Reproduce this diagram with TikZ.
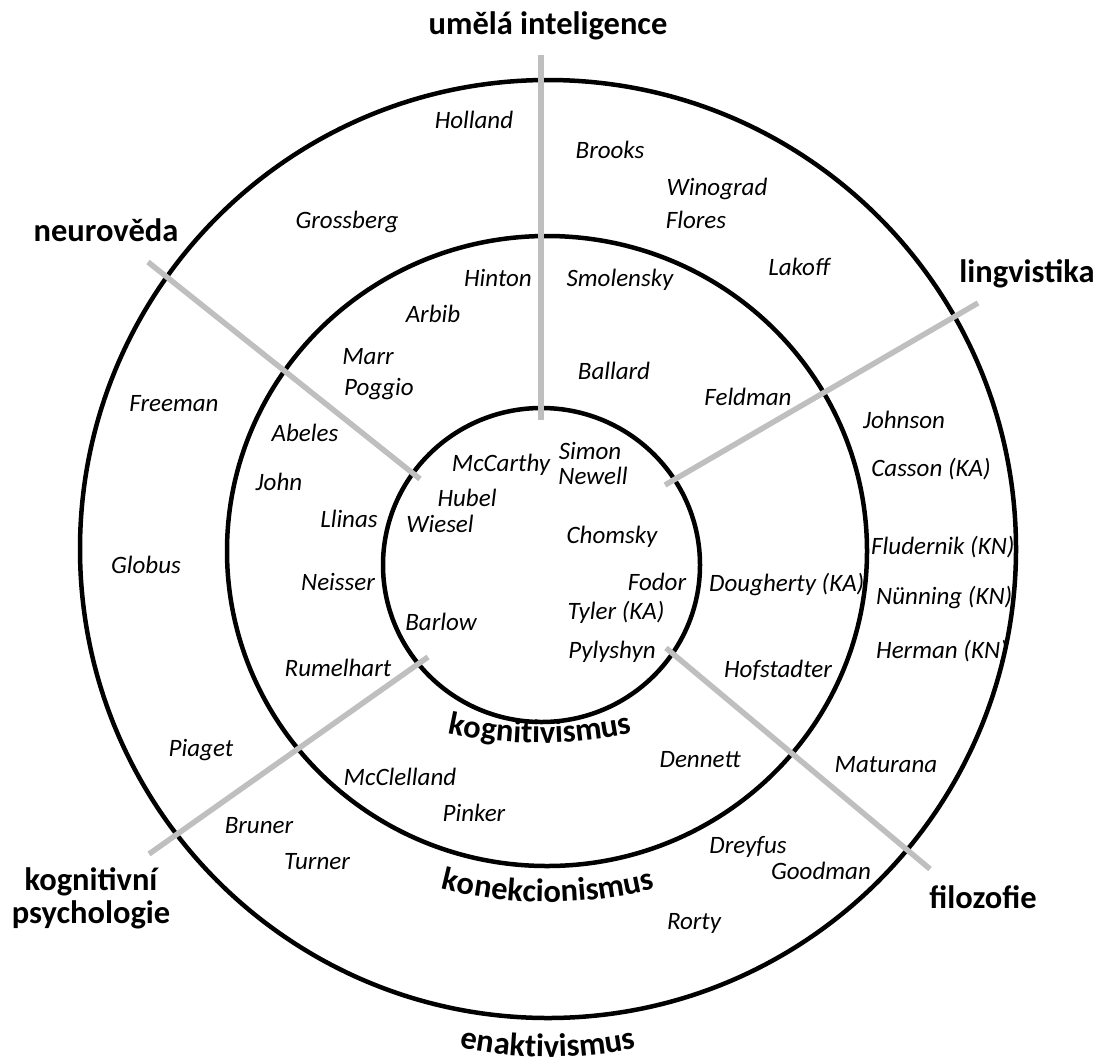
\documentclass[tikz,border=0pt]{standalone}
\usepackage{fontspec}
\setmainfont{Carlito}
\usetikzlibrary{decorations.text}
\definecolor{axisgray}{RGB}{191,191,191}
\newcommand\namefont{\fontsize{25}{30}\selectfont\itshape}
\newcommand\headfont{\fontsize{32.5}{33}\selectfont\bfseries}
\begin{document}
\begin{tikzpicture}[x=1pt,y=-1pt,
  person/.style={font=\namefont, inner sep=0pt, anchor=base},
  personw/.style={person, anchor=base west},
  head/.style={font=\headfont, inner sep=0pt, anchor=base, align=center},
  ring/.style={draw=black, line width=4.5pt},
  axis/.style={draw=axisgray, line width=5.5pt},
  arclabel/.style={decorate, decoration={text along path, text align=center, text={|\headfont|#1}}}]
\useasboundingbox (0,0) rectangle (1099,1063);

% names
\node[person] (holland) at (474,128) {Holland};
\node[person] (brooks) at (610,158) {Brooks};
\node[person] (winograd) at (717,195) {Winograd};
\node[person] (flores) at (696,228) {Flores};
\node[person] (grossberg) at (347,228) {Grossberg};
\node[person] (lakoff) at (799,275) {Lakoff};
\node[person] (hinton) at (498,286) {Hinton};
\node[person] (smolensky) at (620,286) {Smolensky};
\node[person] (arbib) at (433,322) {Arbib};
\node[person] (marr) at (368,364) {Marr};
\node[person] (poggio) at (379,395) {Poggio};
\node[person] (ballard) at (614,379) {Ballard};
\node[person] (feldman) at (748,405) {Feldman};
\node[person] (freeman) at (174,411) {Freeman};
\node[person] (johnson) at (904,428) {Johnson};
\node[person] (abeles) at (305,441) {Abeles};
\node[person] (casson) at (931,476) {Casson (KA)};
\node[person] (mccarthy) at (501,471) {McCarthy};
\node[person] (simon) at (590,459) {Simon};
\node[person] (newell) at (593,484) {Newell};
\node[person] (john) at (279,490) {John};
\node[person] (hubel) at (467,506) {Hubel};
\node[person] (wiesel) at (440,532) {Wiesel};
\node[person] (llinas) at (349,527) {Llinas};
\node[person] (chomsky) at (612,543) {Chomsky};
\node[personw] (fludernik) at (871,554) {Fludernik (KN)};
\node[person] (globus) at (146,573) {Globus};
\node[person] (neisser) at (338,590) {Neisser};
\node[person] (fodor) at (657,590) {Fodor};
\node[personw] (dougherty) at (709,591) {Dougherty (KA)};
\node[personw] (nunning) at (876,604) {Nünning (KN)};
\node[person] (tyler) at (616,619) {Tyler (KA)};
\node[person] (barlow) at (441,630) {Barlow};
\node[person] (pylyshyn) at (612,658) {Pylyshyn};
\node[personw] (herman) at (876,658) {Herman (KN)};
\node[person] (rumelhart) at (338,676) {Rumelhart};
\node[person] (hofstadter) at (778,677) {Hofstadter};
\node[person] (piaget) at (201,756) {Piaget};
\node[person] (dennett) at (700,767) {Dennett};
\node[person] (maturana) at (886,772) {Maturana};
\node[person] (mcclelland) at (400,785) {McClelland};
\node[person] (pinker) at (474,821) {Pinker};
\node[person] (bruner) at (259,833) {Bruner};
\node[person] (dreyfus) at (748,853) {Dreyfus};
\node[person] (turner) at (317,869) {Turner};
\node[person] (goodman) at (821,879) {Goodman};
\node[person] (rorty) at (694,929) {Rorty};

% rings
\draw[ring] (548,549) ellipse [x radius=468, y radius=469];
\draw[ring] (547,551) ellipse [x radius=320, y radius=315];
\draw[ring] (541.5,565) ellipse [x radius=158.5, y radius=157];

% axes
\coordinate (aiOut) at (541,55);   \coordinate (aiIn) at (541,420);
\coordinate (neOut) at (148,262);  \coordinate (neIn) at (420,479);
\coordinate (liOut) at (978,303);  \coordinate (liIn) at (665,485);
\coordinate (psOut) at (149,854);  \coordinate (psIn) at (428,657);
\coordinate (fiOut) at (930,869);  \coordinate (fiIn) at (666,648);
\draw[axis] (aiOut) -- (aiIn);
\draw[axis] (neOut) -- (neIn);
\draw[axis] (liOut) -- (liIn);
\draw[axis] (psOut) -- (psIn);
\draw[axis] (fiOut) -- (fiIn);

% headings
\node[head] (ai) at (548,34) {umělá inteligence};
\node[head] (neuro) at (106,241) {neurověda};
\node[head] (ling) at (1027,282) {lingvistika};
\node[head] (psych) at (91,923) {kognitivní\\psychologie};
\node[head] (filo) at (983,908) {filozofie};

% curved ring labels
\path[arclabel=kognitivismus] (540,313) ++(110:430) arc[start angle=110, end angle=70, radius=430];
\path[arclabel=konekcionismus] (548,472) ++(110:430) arc[start angle=110, end angle=70, radius=430];
\path[arclabel=enaktivismus] (548,627) ++(110:430) arc[start angle=110, end angle=70, radius=430];
\end{tikzpicture}
\end{document}
